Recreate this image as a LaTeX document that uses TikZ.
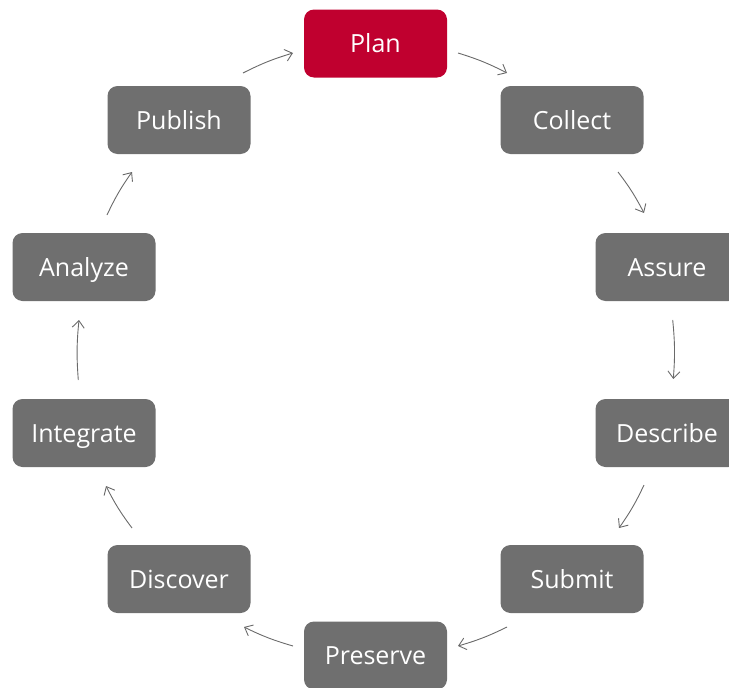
\documentclass[tikz,border=0pt]{standalone}
\usepackage{fontspec}
\setmainfont{Open Sans}
\usetikzlibrary{arrows.meta}
\definecolor{boxgray}{HTML}{6F6F6F}
\definecolor{planred}{HTML}{C0002F}
\definecolor{arrgray}{HTML}{6A6A6A}
\begin{document}
\begin{tikzpicture}[x=1pt,y=-1pt,
  stage/.style={rectangle, rounded corners=10pt, fill=boxgray, text=white,
    minimum width=143pt, minimum height=68pt, inner sep=0pt,
    font=\fontsize{25}{30}\selectfont, text height=18pt, text depth=0pt},
  arr/.style={draw=arrgray, line width=0.9pt,
    -{Straight Barb[length=7pt,width=12pt]}, bend left=5}]
\useasboundingbox (0,0) rectangle (729,688);
\clip (0,0) rectangle (729,688);
\node[stage, fill=planred] (plan) at (375.5,43.5) {Plan};
\node[stage] (collect)   at (572,120)   {Collect};
\node[stage] (assure)    at (667,267)   {Assure};
\node[stage] (describe)  at (667,433)   {Describe};
\node[stage] (submit)    at (572,579)   {Submit};
\node[stage] (preserve)  at (375.5,655.5) {Preserve};
\node[stage] (discover)  at (179,579)   {Discover};
\node[stage] (integrate) at (84,433)    {Integrate};
\node[stage] (analyze)   at (84,267)    {Analyze};
\node[stage] (publish)   at (179,120)   {Publish};
\draw[arr] ([shift={(82.5,9.5)}]plan.center) to ([shift={(-65,-47)}]collect.center);
\draw[arr] ([shift={(46,52)}]collect.center) to ([shift={(-23,-54)}]assure.center);
\draw[arr] ([shift={(5.7,53)}]assure.center) to ([shift={(6.3,-54)}]describe.center);
\draw[arr] ([shift={(-23,52)}]describe.center) to ([shift={(47,-51)}]submit.center);
\draw[arr] ([shift={(-65,48)}]submit.center) to ([shift={(82.5,-9.5)}]preserve.center);
\draw[arr] ([shift={(-82.5,-9.5)}]preserve.center) to ([shift={(65,48)}]discover.center);
\draw[arr] ([shift={(-47,-51)}]discover.center) to ([shift={(22,53)}]integrate.center);
\draw[arr] ([shift={(-5.7,-53)}]integrate.center) to ([shift={(-5,53)}]analyze.center);
\draw[arr] ([shift={(23,-52)}]analyze.center) to ([shift={(-47,52)}]publish.center);
\draw[arr] ([shift={(64,-47)}]publish.center) to ([shift={(-82.5,9.5)}]plan.center);
\end{tikzpicture}
\end{document}
